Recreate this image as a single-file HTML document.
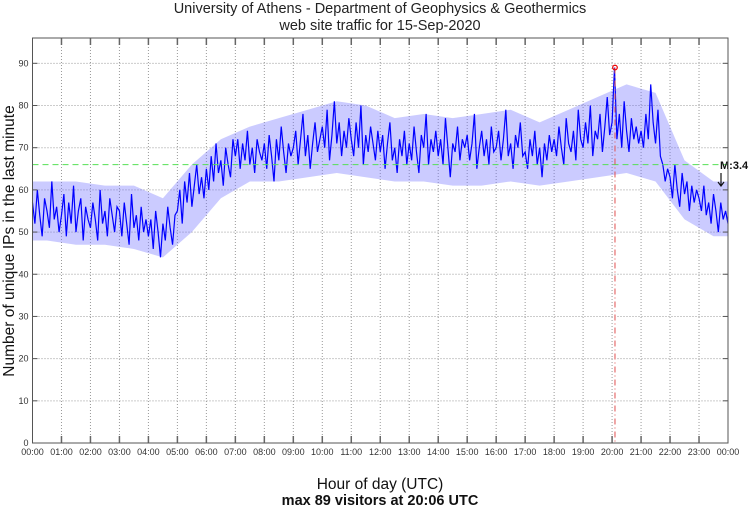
<!DOCTYPE html>
<html><head><meta charset="utf-8"><style>
body{margin:0;background:#fff;width:750px;height:508px;overflow:hidden}
svg{display:block;font-family:"Liberation Sans",sans-serif}
</style></head><body>
<svg id="chart" width="750" height="508">
<text x="380" y="13" text-anchor="middle" font-size="14.5" fill="#222">University of Athens - Department of Geophysics &amp; Geothermics</text>
<text x="380" y="30" text-anchor="middle" font-size="14.5" fill="#222">web site traffic for 15-Sep-2020</text>
<text transform="translate(14,241) rotate(-90)" text-anchor="middle" font-size="15.5" fill="#111">Number of unique IPs in the last minute</text>
<text x="380" y="489" text-anchor="middle" font-size="15.5" fill="#111">Hour of day (UTC)</text>
<text x="380" y="505" text-anchor="middle" font-size="14.5" font-weight="bold" fill="#111">max 89 visitors at 20:06 UTC</text>
<g id="grid"></g><g id="series"></g><g id="frame"></g>
</svg>
<script>
const yTicks=[0,10,20,30,40,50,60,70,80,90];
const xTickLabels=["00:00","01:00","02:00","03:00","04:00","05:00","06:00","07:00","08:00","09:00","10:00","11:00","12:00","13:00","14:00","15:00","16:00","17:00","18:00","19:00","20:00","21:00","22:00","23:00","00:00"];
const visitors=[
57,52,60,54,49,58,55,51,62,53,56,50,
54,59,49,57,52,61,50,55,58,48,56,53,
51,57,53,48,60,52,55,49,58,54,50,56,
55,49,57,52,47,59,51,54,48,56,50,53,
49,53,46,55,50,44,52,48,56,51,47,54,
55,60,52,62,57,64,56,61,66,59,63,58,
65,60,68,62,71,64,67,61,70,66,63,72,
68,72,65,71,67,74,66,70,64,72,69,67,
71,65,73,68,62,72,67,75,69,64,71,68,
70,74,66,72,78,68,73,65,71,76,69,72,
75,70,79,67,73,81,71,76,68,74,70,77,
72,68,76,70,80,66,73,69,75,71,67,74,
69,73,65,71,76,67,70,64,72,68,74,66,
71,67,75,69,64,73,70,78,66,72,69,74,
68,72,66,77,70,63,71,69,75,67,72,70,
73,67,71,78,65,70,74,68,72,66,75,69,
70,74,67,72,79,68,71,65,73,70,76,68,
69,65,72,68,74,66,70,63,71,67,73,69,
72,68,75,70,66,77,71,69,74,67,79,72,
70,76,71,80,68,74,72,78,69,75,82,73,
76,89,72,78,70,81,74,69,77,72,75,71,
74,70,78,72,85,76,71,79,68,66,62,65,
63,58,66,60,56,64,59,62,55,61,57,60,
58,55,61,54,57,52,59,55,50,57,53,55,52];
const hourLow=[48,47,47,46,44,50,58,62,62,63,64,63,62,62,61,61,62,61,62,63,64,62,53,49];
const hourHigh=[62,62,61,61,58,66,72,75,77,79,81,80,77,78,77,78,79,76,79,82,85,83,67,62];
const meanLevel=[66];
const peak=[20.1,89];
const NS="http://www.w3.org/2000/svg";
const L=32.5,R=728,T=38,B=443,YMAX=96;
const xs=h=>L+(R-L)*h/24, ys=v=>B-(B-T)*v/YMAX;
function mk(tag,attrs,parent){const e=document.createElementNS(NS,tag);for(const k in attrs)e.setAttribute(k,attrs[k]);parent.appendChild(e);return e;}
const grid=document.getElementById('grid'),series=document.getElementById('series'),frame=document.getElementById('frame');
yTicks.forEach(v=>{
 if(v>0){const g=mk('line',{x1:L,x2:R,y1:ys(v),y2:ys(v),stroke:'#999','stroke-width':1,'stroke-dasharray':'1,2'},grid);
 
 }
 const t=mk('text',{x:L-4,y:ys(v)+3,'text-anchor':'end','font-size':9,fill:'#333'},frame);t.textContent=v;
 
 
 mk('line',{x1:L,x2:L+5,y1:ys(v),y2:ys(v),stroke:'#555'},frame);
 mk('line',{x1:R-5,x2:R,y1:ys(v),y2:ys(v),stroke:'#555'},frame);
});
xTickLabels.forEach((s,i)=>{
 const x=xs(i);
 if(i>0&&i<24){const g=mk('line',{x1:x,x2:x,y1:T,y2:B,stroke:'#999','stroke-width':1,'stroke-dasharray':'1,2'},grid);
 
 
 mk('line',{x1:x,x2:x,y1:B-7,y2:B,stroke:'#666','stroke-width':1.5},frame);
 mk('line',{x1:x,x2:x,y1:T,y2:T+7,stroke:'#666','stroke-width':1.5},frame);}
 const t=mk('text',{x:x,y:B+12,'text-anchor':'middle','font-size':9,fill:'#333'},frame);t.textContent=s;
 
 
});
const bandTop=hourHigh.map((v,i)=>xs(i+0.5).toFixed(2)+','+ys(v).toFixed(2));
const bandBot=hourLow.map((v,i)=>xs(i+0.5).toFixed(2)+','+ys(v).toFixed(2)).reverse();
const xFirst=xs(0).toFixed(2), xLast=xs(24).toFixed(2);
const bandPts=[xFirst+','+ys(hourHigh[0]).toFixed(2)].concat(bandTop,[xLast+','+ys(hourHigh[23]).toFixed(2),xLast+','+ys(hourLow[23]).toFixed(2)],bandBot,[xFirst+','+ys(hourLow[0]).toFixed(2)]).join(' ');
const band=mk('polygon',{points:bandPts,fill:'#6a6aff','fill-opacity':0.35,stroke:'none'},series);


const pts=visitors.map((v,i)=>xs(i*24/(visitors.length-1)).toFixed(2)+','+ys(v).toFixed(2)).join(' ');
const pl=mk('polyline',{points:pts,fill:'none',stroke:'#0000ff','stroke-width':1.2,'stroke-linejoin':'miter'},series);


const ml=mk('line',{x1:L,x2:R,y1:ys(meanLevel[0]),y2:ys(meanLevel[0]),stroke:'#55e055','stroke-width':1,'stroke-dasharray':'6,4'},series);


const vl=mk('line',{x1:xs(peak[0]),x2:xs(peak[0]),y1:ys(peak[1]),y2:B,stroke:'#e05050','stroke-width':1,'stroke-dasharray':'6,3,1,3'},series);


const pc=mk('circle',{cx:xs(peak[0]),cy:ys(peak[1]),r:2.3,fill:'none',stroke:'#e00','stroke-width':1.2},series);


const mt=mk('text',{x:720,y:169,'font-size':11,'font-weight':'bold',fill:'#111'},series);mt.textContent='M:3.4';


const ar=mk('path',{d:'M721,173 L721,186 M718,182 L721,186 L724,182',stroke:'#111','stroke-width':1.2,fill:'none'},series);


const fr=mk('rect',{x:L,y:T,width:R-L,height:B-T,fill:'none',stroke:'#555','stroke-width':1},frame);


</script>
</body></html>
